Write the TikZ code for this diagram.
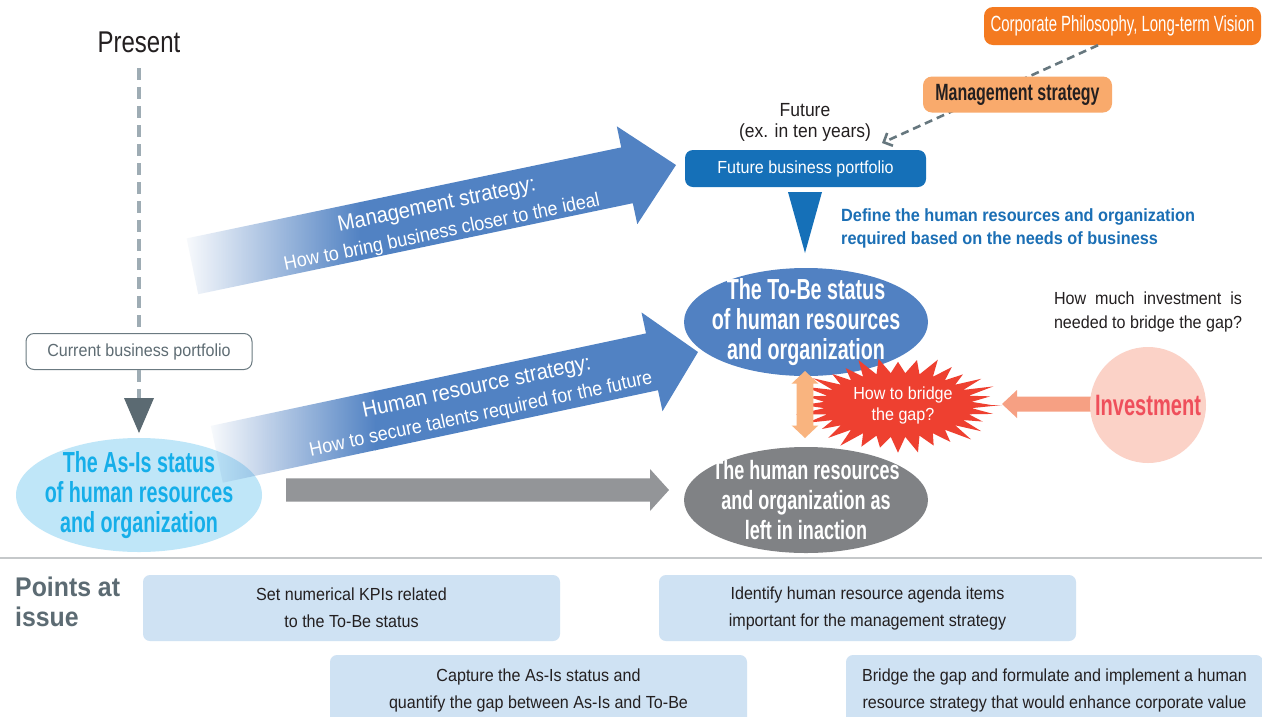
\documentclass[tikz,border=0pt]{standalone}
\usepackage{fontspec}
\setmainfont{Liberation Sans}[FakeStretch=0.92]
\newfontfamily\fsC{Liberation Sans}[FakeStretch=0.68]
\newfontfamily\fsP{Liberation Sans}[FakeStretch=0.8]
\usetikzlibrary{shapes.geometric,arrows.meta,fadings}
\newcommand\fz[2]{\fontsize{#1}{#2}\selectfont}
\definecolor{textdark}{HTML}{231F20}
\definecolor{dashgrey}{HTML}{9EACB4}
\definecolor{curborder}{HTML}{6B7A81}
\definecolor{curtext}{HTML}{5E6C73}
\definecolor{trigrey}{HTML}{5B6A72}
\definecolor{asisfill}{HTML}{BFE6F8}
\definecolor{asistext}{HTML}{15AEE9}
\definecolor{tobefill}{HTML}{5181C2}
\definecolor{inactfill}{HTML}{808285}
\definecolor{greyarrow}{HTML}{939598}
\definecolor{arrblue}{HTML}{5182C3}
\definecolor{futblue}{HTML}{1570B8}
\definecolor{defblue}{HTML}{1B6FB5}
\definecolor{burstred}{HTML}{EE4030}
\definecolor{dblarrow}{HTML}{F9B47F}
\definecolor{salmon}{HTML}{F6A083}
\definecolor{invfill}{HTML}{FBD2C7}
\definecolor{invtext}{HTML}{EF4F5B}
\definecolor{corpfill}{HTML}{F47A20}
\definecolor{mgmtfill}{HTML}{F9AA6C}
\definecolor{dashdark}{HTML}{66777E}
\definecolor{ptfill}{HTML}{CFE2F3}
\definecolor{ptgrey}{HTML}{5C6B73}
\definecolor{sepgrey}{HTML}{C5C8CA}
\tikzfading[name=arrfade, left color=transparent!96, right color=transparent!0]
\begin{document}
\begin{tikzpicture}[x=1pt,y=-1pt,
  elltext/.style={inner sep=0pt, align=center, font=\fsC\bfseries\fz{29}{30}},
  ptbox/.style={fill=ptfill, rounded corners=7pt, inner sep=0pt, align=center, text=textdark, font=\fz{17.5}{27}},
  arrtext/.style={text=white, inner sep=0pt},
  presdash/.style={draw=dashgrey, line width=4pt, dash pattern=on 12pt off 7pt},
  dashconn/.style={draw=dashdark, line width=2.6pt, dash pattern=on 8pt off 5pt, -{Straight Barb[length=7pt,width=14pt]}},
  fadetail/.style={fill=arrblue, path fading=arrfade, fit fading=true}
]
\useasboundingbox (0,0) rectangle (1262,716);
\fill[white] (0,0) rectangle (1262,716);

% ---- top-right: corporate philosophy / management strategy
\node[fill=corpfill, rounded corners=9pt, minimum width=277pt, minimum height=38pt, inner sep=0pt,
      text=white, font=\fsC\fz{22}{24}] (corp) at (1122.5,26) {Corporate Philosophy, Long-term Vision};
\coordinate (futtip) at (882,143);
\draw[dashconn] ([xshift=-24.5pt]corp.south) -- (futtip);
\node[fill=mgmtfill, rounded corners=9pt, minimum width=189pt, minimum height=36pt, inner sep=0pt,
      text=textdark, font=\fsC\bfseries\fz{23.5}{26}] (mgmt) at (1017.5,94.5) {Management strategy};

% ---- Present column
\node[font=\fsP\fz{30}{32}, text=textdark, inner sep=0pt] (present) at (139,42) {Present};
\coordinate (p0) at (139,68);
\node[draw=curborder, line width=1pt, fill=white, rounded corners=8pt, minimum width=226pt, minimum height=36pt,
      inner sep=0pt, text=curtext, font=\fz{17.5}{20}] (cur) at (139,351.5) {Current business portfolio};
\draw[presdash] (p0) -- (cur.north);
\coordinate (tritop) at (139,399);
\draw[presdash] (cur.south) -- (tritop);
\fill[trigrey] (124,398) -- (154,398) -- (139,433) -- cycle;

% ---- ellipses
\fill[asisfill] (139,495) ellipse [x radius=123, y radius=57];
\node[elltext, text=asistext] (asis) at (139,495) {The As-Is status\\of human resources\\and organization};
\fill[tobefill] (806,322) ellipse [x radius=122, y radius=54];
\node[elltext, text=white] (tobe) at (806,322) {The To-Be status\\of human resources\\and organization};
\fill[inactfill] (806,500) ellipse [x radius=122, y radius=53];
\node[elltext, text=white, font=\fsC\bfseries\fz{26.5}{30}] (inact) at (806,500) {The human resources\\and organization as\\left in inaction};

% ---- big blue arrows (faded tails)
\fill[fadetail] (186.6,238.4) -- (361,201.9) -- (361,260.1) -- (198.2,294.2) -- cycle;
\fill[arrblue] (360,202.1) -- (621.2,147.4) -- (616.8,126.3) -- (676,165) -- (637.3,224.2)
   -- (632.8,203.2) -- (360,260.3) -- cycle;
\node[arrtext, rotate=11.7, font=\fz{22}{24}] (ms1) at (437,206) {Management strategy:};
\node[arrtext, rotate=11.7, font=\fz{19.5}{22}] (ms2) at (442,233) {How to bring business closer to the ideal};

\fill[fadetail] (210.8,425.9) -- (376,390.8) -- (376,450.1) -- (222.8,482.7) -- cycle;
\fill[arrblue] (375,391.0) -- (646,333.4) -- (641.5,312.4) -- (698,352) -- (662.5,411.2)
   -- (658,390.2) -- (375,450.35) -- cycle;
\node[arrtext, rotate=12, font=\fz{22}{24}] (hr1) at (477,388) {Human resource strategy:};
\node[arrtext, rotate=12, font=\fz{19.5}{22}] (hr2) at (481,415) {How to secure talents required for the future};

% ---- grey arrow As-Is -> inaction
\fill[greyarrow] (286,478.3) -- (650,478.3) -- (650,469) -- (669,490) -- (650,511) -- (650,501.7) -- (286,501.7) -- cycle;

% ---- future
\node[font=\fz{19}{21}, text=textdark, align=center, inner sep=0pt] (future) at (805,122) {Future\\(ex. in ten years)};
\node[fill=futblue, rounded corners=8pt, minimum width=241pt, minimum height=37pt, inner sep=0pt,
      text=white, font=\fz{17.5}{20}] (fbp) at (805.5,168.5) {Future business portfolio};
\fill[futblue] (788,192) -- (822,192) -- (805,253) -- cycle;
\node[anchor=west, align=left, inner sep=0pt, text=defblue, font=\bfseries\fz{17.7}{23}] (define) at (841,228.5)
  {Define the human resources and organization\\required based on the needs of business};

% ---- gap starburst
\fill[burstred] (1002,405) \foreach \i in {1,...,32} {
   -- ({898+74*cos(\i*11.25-5.625)},{405+32*sin(\i*11.25-5.625)})
   -- ({898+104*(0.94+0.06*cos(\i*97))*cos(\i*11.25)},{405+49*(0.94+0.06*cos(\i*97))*sin(\i*11.25)}) } -- cycle;
\node[text=white, align=center, inner sep=0pt, font=\fz{17.5}{21}] (gap) at (903,405) {How to bridge\\the gap?};
\fill[dblarrow] (805,371) -- (818.3,383.5) -- (813.3,383.5) -- (813.3,425.5) -- (818.3,425.5) -- (805,438)
   -- (791.7,425.5) -- (796.7,425.5) -- (796.7,383.5) -- (791.7,383.5) -- cycle;

% ---- investment
\fill[salmon] (1092,396.5) -- (1017,396.5) -- (1017,390) -- (1002,404) -- (1017,418) -- (1017,411.5) -- (1092,411.5) -- cycle;
\node[circle, fill=invfill, minimum size=116pt, inner sep=0pt, text=invtext, font=\fsC\bfseries\fz{29.5}{30}] (inv) at (1148,405) {Investment};
\node[align=left, inner sep=0pt, text=textdark, font=\fz{17.5}{24}] (howmuch) at (1148,312)
  {\makebox[188pt][s]{How much investment is}\\needed to bridge the gap?};

% ---- points at issue
\draw[sepgrey, line width=2pt] (0,558) -- (1262,558);
\node[anchor=west, align=left, inner sep=0pt, text=ptgrey, font=\bfseries\fz{27}{30}] (pai) at (15,602) {Points at\\issue};
\node[ptbox, minimum width=417pt, minimum height=66pt] (pt1) at (351.5,608) {Set numerical KPIs related\\to the To-Be status};
\node[ptbox, minimum width=417pt, minimum height=66pt] (pt2) at (867.5,608) {Identify human resource agenda items\\important for the management strategy};
\node[ptbox, minimum width=417pt, minimum height=70pt] (pt3) at (538.5,690) {Capture the As-Is status and\\quantify the gap between As-Is and To-Be};
\node[ptbox, minimum width=417pt, minimum height=70pt] (pt4) at (1054.5,690) {Bridge the gap and formulate and implement a human\\resource strategy that would enhance corporate value};
\end{tikzpicture}
\end{document}
